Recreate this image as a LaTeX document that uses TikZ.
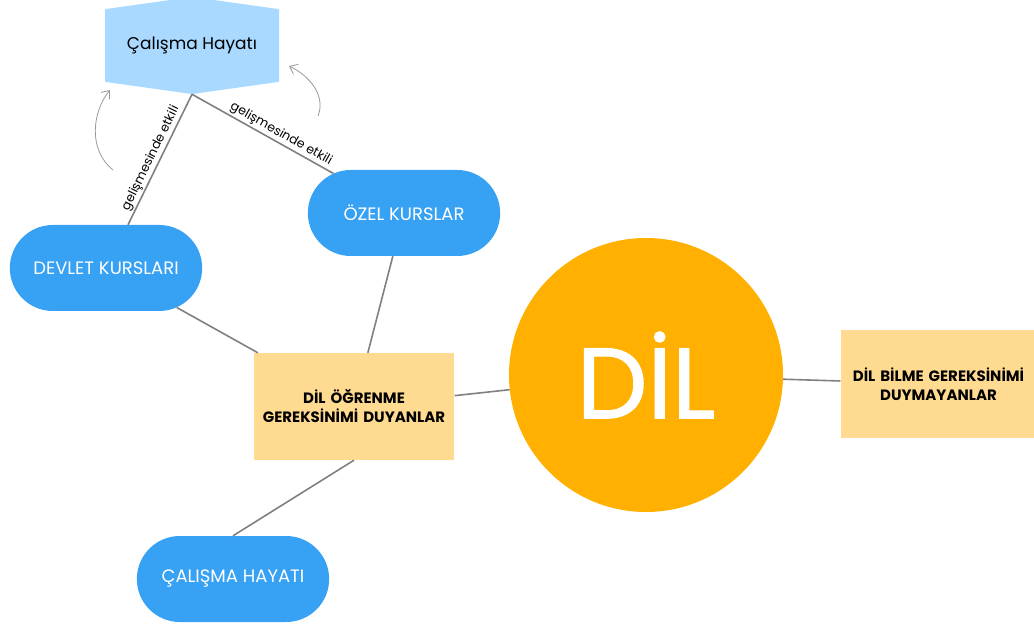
\documentclass[tikz,border=0pt]{standalone}
\usepackage{fontspec}
\setmainfont{Poppins}
\newfontfamily\dilfont{Poppins}[FakeBold=1.2]
\usepackage{tikz}
\usetikzlibrary{shapes.geometric, shapes.misc, shapes.symbols, arrows.meta, positioning}
\definecolor{hexblue}{HTML}{A9D9FF}
\definecolor{pillblue}{HTML}{37A1F4}
\definecolor{boxyellow}{HTML}{FFDB91}
\definecolor{dilorange}{HTML}{FFB000}
\definecolor{linkgray}{HTML}{808080}
\tikzstyle{topic} = [signal,
signal to=north and south,
signal pointer angle=164,
minimum width=174pt,
minimum height=91pt,
inner sep=0pt,
fill=hexblue,
font=\fontsize{17}{20}\selectfont]
\tikzstyle{course} = [rounded rectangle,
minimum width=199pt,
minimum height=86pt,
text centered,
fill=pillblue,
text=white,
font=\fontsize{18}{21}\selectfont]
\tikzstyle{group} = [rectangle,
minimum width=198pt,
minimum height=107pt,
text centered,
text width=194pt,
align=center,
fill=boxyellow,
font=\fontsize{15}{19}\selectfont\bfseries]
\tikzstyle{link} = [line width=1.6pt, draw=linkgray]
\tikzstyle{hint} = [line width=0.8pt, draw=linkgray!80, -{Straight Barb[length=7pt,width=11pt]}]
\tikzstyle{linklabel} = [sloped, above, inner sep=1.5pt, font=\fontsize{12.5}{14}\selectfont]

\begin{document}
\begin{tikzpicture}[x=1pt, y=-1pt]
                \useasboundingbox (0,0) rectangle (1034,628);
                \node (hayat) [topic] at (192,45.5) {Çalışma Hayatı};
                \node (devlet) [course] at (106,268) {DEVLET KURSLARI};
                \node (ozel) [course] at (404,213) {ÖZEL KURSLAR};
                \node (ogrenme) [group] at (354,406.5) {DİL ÖĞRENME\\GEREKSİNİMİ DUYANLAR};
                \node (dil) [circle, fill=dilorange, minimum size=274pt, text=white,
                      font=\dilfont\fontsize{100}{104}\selectfont] at (646,375) {DİL};
                \node (bilme) [group, minimum width=191pt, text width=189pt] at (938.5,384) {DİL BİLME GEREKSİNİMİ\\DUYMAYANLAR};
                \node (calisma) [course] at (233,579) {ÇALIŞMA HAYATI};

                \coordinate (h1s) at (113,170);
                \coordinate (h1e) at (110,90);
                \coordinate (h2s) at (318,116);
                \coordinate (h2e) at (289,66);

                \draw [link] (hayat.south) -- node[linklabel, pos=0.52] {gelişmesinde etkili} ([xshift=22pt]devlet.north);
                \draw [link] (hayat.south) -- node[linklabel, pos=0.6] {gelişmesinde etkili} (ozel);
                \draw [link] (devlet) -- (ogrenme);
                \draw [link] (ozel) -- (ogrenme);
                \draw [link] (ogrenme) -- (dil);
                \draw [link] (dil) -- (bilme);
                \draw [link] (ogrenme.south) -- (calisma.north);

                % small hints beside the labels
                \draw [hint] (h1s) .. controls (88,150) and (92,112) .. (h1e);
                \draw [hint] (h2s) .. controls (326,96) and (310,76) .. (h2e);
            \end{tikzpicture}
\end{document}
